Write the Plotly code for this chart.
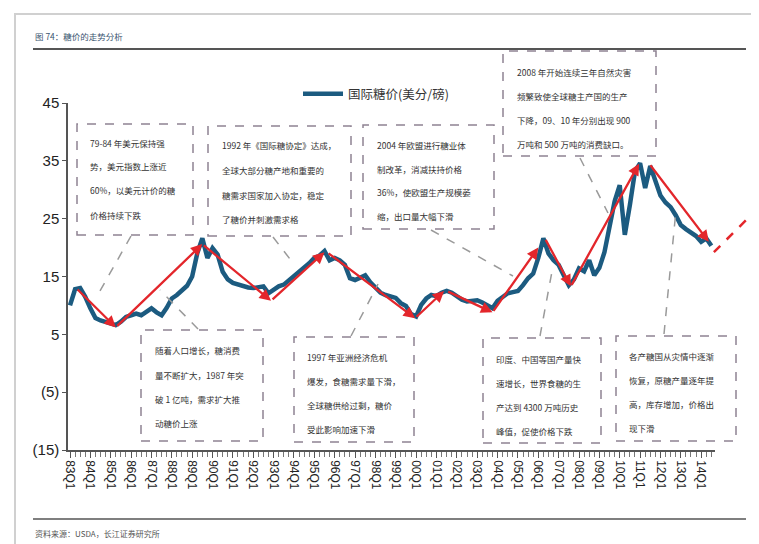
import plotly.graph_objects as go

# ---------------- data ----------------
tick_labels = ["83Q1", "84Q1", "85Q1", "86Q1", "87Q1", "88Q1", "89Q1", "90Q1",
               "91Q1", "92Q1", "93Q1", "94Q1", "95Q1", "96Q1", "97Q1", "98Q1",
               "99Q1", "00Q1", "01Q1", "02Q1", "03Q1", "04Q1", "05Q1", "06Q1",
               "07Q1", "08Q1", "09Q1", "10Q1", "11Q1", "12Q1", "13Q1", "14Q1"]

# quarterly international sugar price (US cents / lb), 83Q1 .. 14Q3
price = [10.0, 12.8, 13.0, 11.5,   # 83
         9.5, 7.8, 7.4, 7.2,       # 84
         6.8, 6.6, 7.2, 8.0,       # 85
         8.3, 8.6, 8.3, 8.8,       # 86
         9.5, 8.8, 8.3, 9.6,       # 87
         11.2, 11.8, 12.6, 13.4,   # 88
         15.0, 19.0, 21.6, 18.2,   # 89
         19.9, 18.8, 15.8, 14.5,   # 90
         13.9, 13.6, 13.3, 13.1,   # 91
         13.0, 13.1, 13.3, 12.1,   # 92
         12.8, 13.3, 13.6, 14.3,   # 93
         15.0, 15.8, 16.4, 17.3,   # 94
         18.2, 18.6, 19.4, 17.8,   # 95
         18.2, 17.8, 17.0, 14.7,   # 96
         14.4, 14.8, 15.2, 14.0,   # 97
         13.0, 12.2, 11.8, 11.5,   # 98
         11.3, 10.4, 9.9, 8.5,     # 99
         8.1, 10.1, 11.2, 11.8,    # 00
         11.6, 12.2, 12.5, 12.2,   # 01
         11.6, 11.0, 10.7, 10.8,   # 02
         10.9, 10.5, 10.1, 9.5,    # 03
         10.8, 11.5, 12.1, 12.3,   # 04
         12.5, 13.5, 14.7, 15.5,   # 05
         18.2, 21.6, 19.0, 17.8,   # 06
         17.0, 15.2, 13.5, 14.5,   # 07
         16.4, 15.9, 17.8, 15.2,   # 08
         16.5, 19.2, 23.5, 28.0,   # 09
         30.8, 22.2, 27.4, 33.2,   # 10
         34.6, 30.3, 34.1, 31.5,   # 11
         29.0, 27.8, 27.0, 25.6,   # 12
         23.9, 23.2, 22.5, 22.0,   # 13
         21.0, 21.6, 20.3]         # 14

# red trend arrows: (start quarter idx, start value, end quarter idx, end value)
trend_start_q = [1.2, 9.0, 26.0, 39.5, 50.5, 67.8, 74.0, 83.0, 93.3, 98.4, 113.8]
trend_start_v = [13.0, 6.2, 20.6, 10.8, 19.2, 7.8, 12.5, 8.8, 21.6, 13.3, 34.5]
trend_end_q = [9.0, 26.0, 39.5, 50.0, 67.8, 73.5, 83.0, 92.0, 98.4, 111.8, 125.5]
trend_end_v = [6.2, 20.6, 10.8, 19.2, 7.8, 12.5, 8.8, 20.0, 13.3, 34.5, 21.0]

# red dashed forecast
forecast_q = [126.5, 134.6]
forecast_v = [19.2, 26.3]

y_tickvals = [-15, -5, 5, 15, 25, 35, 45]
y_ticktext = ["(15)", "(5)", "5", "15", "25", "35", "45"]

notes = [
    ["79-84 年美元保持强", "势，美元指数上涨近", "60%，以美元计价的糖", "价格持续下跌"],
    ["1992 年《国际糖协定》达成，", "全球大部分糖产地和重要的", "糖需求国家加入协定，稳定", "了糖价并刺激需求格"],
    ["2004 年欧盟进行糖业体", "制改革，消减扶持价格", "36%，使欧盟生产规模萎", "缩，出口量大幅下滑"],
    ["2008 年开始连续三年自然灾害", "频繁致使全球糖主产国的生产", "下降，09、10 年分别出现 900", "万吨和 500 万吨的消费缺口。"],
    ["随着人口增长，糖消费", "量不断扩大，1987 年突", "破 1 亿吨，需求扩大推", "动糖价上涨"],
    ["1997 年亚洲经济危机", "爆发，食糖需求量下滑，", "全球糖供给过剩，糖价", "受此影响加速下滑"],
    ["印度、中国等国产量快", "速增长，世界食糖的生", "产达到 4300 万吨历史", "峰值，促使价格下跌"],
    ["各产糖国从灾情中逐渐", "恢复，原糖产量逐年提", "高，库存增加，价格出", "现下滑"],
]

# ---------------- layout geometry (pixels) ----------------
W, H = 759, 544
PL, PR, PT, PB = 60, 755, 95, 442        # paper area
AX_RIGHT = 707                           # end of visible x axis
Q_PX = 5.09                              # pixels per quarter
Q0_PX = 62                               # pixel of quarter 0


def px(x):
    return (x - PL) / (PR - PL)


def py(y):
    return (PB - y) / (PB - PT)


x_lo = (PL - Q0_PX) / Q_PX
x_hi = (AX_RIGHT - Q0_PX) / Q_PX
x2_hi = (PR - Q0_PX) / Q_PX

boxes = [  # (x0, y0, x1, y1, text_x, line_ys, connector)
    (69, 116, 185, 227, 80, [135, 158, 182, 207], (123, 228, 88, 290)),
    (200, 118, 343, 228, 212, [137, 162, 187, 211], (265, 229, 285, 255)),
    (355, 117, 486, 221, 367, [137, 161, 184, 208], (423, 222, 505, 268)),
    (495, 43, 648, 148, 507, [64, 88, 112, 136], (572, 150, 600, 205)),
    (133, 322, 255, 433, 145, [342, 367, 391, 415], (190, 321, 152, 282)),
    (286, 329, 406, 434, 297, [349, 373, 397, 421], (343, 328, 370, 276)),
    (475, 330, 593, 435, 486, [351, 375, 399, 423], (532, 328, 545, 258)),
    (608, 328, 728, 433, 619, [348, 372, 396, 420], (656, 326, 668, 202)),
]

BLUE = "#1c5b80"
RED = "#e3262b"
BOX = "#8f8292"
CJK = "Noto Sans CJK SC"

fig = go.Figure()

fig.add_trace(go.Scatter(
    x=list(range(len(price))), y=price, mode="lines",
    line=dict(color=BLUE, width=4.5),
    name="国际糖价(美分/磅)", showlegend=True,
))

fig.add_trace(go.Scatter(
    x=forecast_q, y=forecast_v, mode="lines", xaxis="x2", yaxis="y",
    line=dict(color=RED, width=2.5, dash="dash"), showlegend=False,
))

shapes = []
annotations = []

for sq, sv, eq, ev in zip(trend_start_q, trend_start_v, trend_end_q, trend_end_v):
    annotations.append(dict(
        x=eq, y=ev, ax=sq, ay=sv, xref="x", yref="y", axref="x", ayref="y",
        text="", showarrow=True, arrowhead=2, arrowsize=1.0, arrowwidth=2.3,
        arrowcolor=RED, standoff=0,
    ))

for (x0, y0, x1, y1, tx, ys, conn), lines in zip(boxes, notes):
    shapes.append(dict(type="rect", xref="paper", yref="paper",
                       x0=px(x0), x1=px(x1), y0=py(y1), y1=py(y0),
                       line=dict(color=BOX, width=1.5, dash="dash"),
                       fillcolor="rgba(0,0,0,0)"))
    cx0, cy0, cx1, cy1 = conn
    shapes.append(dict(type="line", xref="paper", yref="paper",
                       x0=px(cx0), y0=py(cy0), x1=px(cx1), y1=py(cy1),
                       line=dict(color="#9a9a9a", width=1.5, dash="dash")))
    for ly, txt in zip(ys, lines):
        annotations.append(dict(
            x=px(tx), y=py(ly), xref="paper", yref="paper", text=txt,
            showarrow=False, xanchor="left", yanchor="middle",
            font=dict(family=CJK, size=8.5, color="#333333"),
        ))

# title, rules, source, page frame
annotations.append(dict(x=px(25), y=py(28), xref="paper", yref="paper",
                        text="图 74：糖价的走势分析", showarrow=False,
                        xanchor="left", yanchor="middle",
                        font=dict(family=CJK, size=8.5, color="#3a5570")))
annotations.append(dict(x=px(25), y=py(525), xref="paper", yref="paper",
                        text="资料来源：USDA，长江证券研究所", showarrow=False,
                        xanchor="left", yanchor="middle",
                        font=dict(family=CJK, size=8, color="#555555")))
shapes.append(dict(type="line", xref="paper", yref="paper",
                   x0=px(25), x1=px(738), y0=py(41), y1=py(41),
                   line=dict(color="#555555", width=2)))
shapes.append(dict(type="line", xref="paper", yref="paper",
                   x0=px(25), x1=px(738), y0=py(511), y1=py(511),
                   line=dict(color="#555555", width=1.5)))
shapes.append(dict(type="rect", xref="paper", yref="paper",
                   x0=px(7), x1=px(752), y0=py(538), y1=py(6),
                   line=dict(color="#d0d0d0", width=2),
                   fillcolor="rgba(0,0,0,0)", layer="below"))

fig.update_layout(
    width=W, height=H,
    margin=dict(l=PL, r=W - PR, t=PT, b=H - PB, pad=0),
    paper_bgcolor="white", plot_bgcolor="rgba(0,0,0,0)",
    font=dict(family="Liberation Sans", color="#333333"),
    showlegend=True,
    legend=dict(x=px(290), y=py(86), xanchor="left", yanchor="middle",
                font=dict(family=CJK, size=12.5, color="#333333"),
                bgcolor="rgba(0,0,0,0)", itemwidth=40),
    xaxis=dict(
        domain=[0, px(AX_RIGHT)], range=[x_lo, x_hi],
        tickmode="array", tickvals=list(range(0, 4 * len(tick_labels), 4)),
        ticktext=tick_labels, tickangle=90,
        tickfont=dict(family="Liberation Sans", size=12, color="#222222"),
        showline=True, linecolor="#555555", linewidth=1.5,
        ticks="outside", ticklen=6, tickcolor="#555555",
        minor=dict(dtick=1, tick0=0, ticks="outside", ticklen=5, tickcolor="#777777"),
        showgrid=False, zeroline=False, anchor="y",
    ),
    xaxis2=dict(domain=[0, 1], range=[x_lo, x2_hi], visible=False, anchor="y",
                showgrid=False, zeroline=False),
    yaxis=dict(
        range=[-15, 45], tickmode="array", tickvals=y_tickvals, ticktext=y_ticktext,
        tickfont=dict(family="Liberation Sans Narrow, Liberation Sans", size=15, color="#222222"),
        showline=True, linecolor="#555555", linewidth=1.5,
        ticks="outside", ticklen=4, tickcolor="#555555",
        showgrid=False, zeroline=False, anchor="x",
    ),
    shapes=shapes, annotations=annotations,
)

fig.write_html("out.html")
